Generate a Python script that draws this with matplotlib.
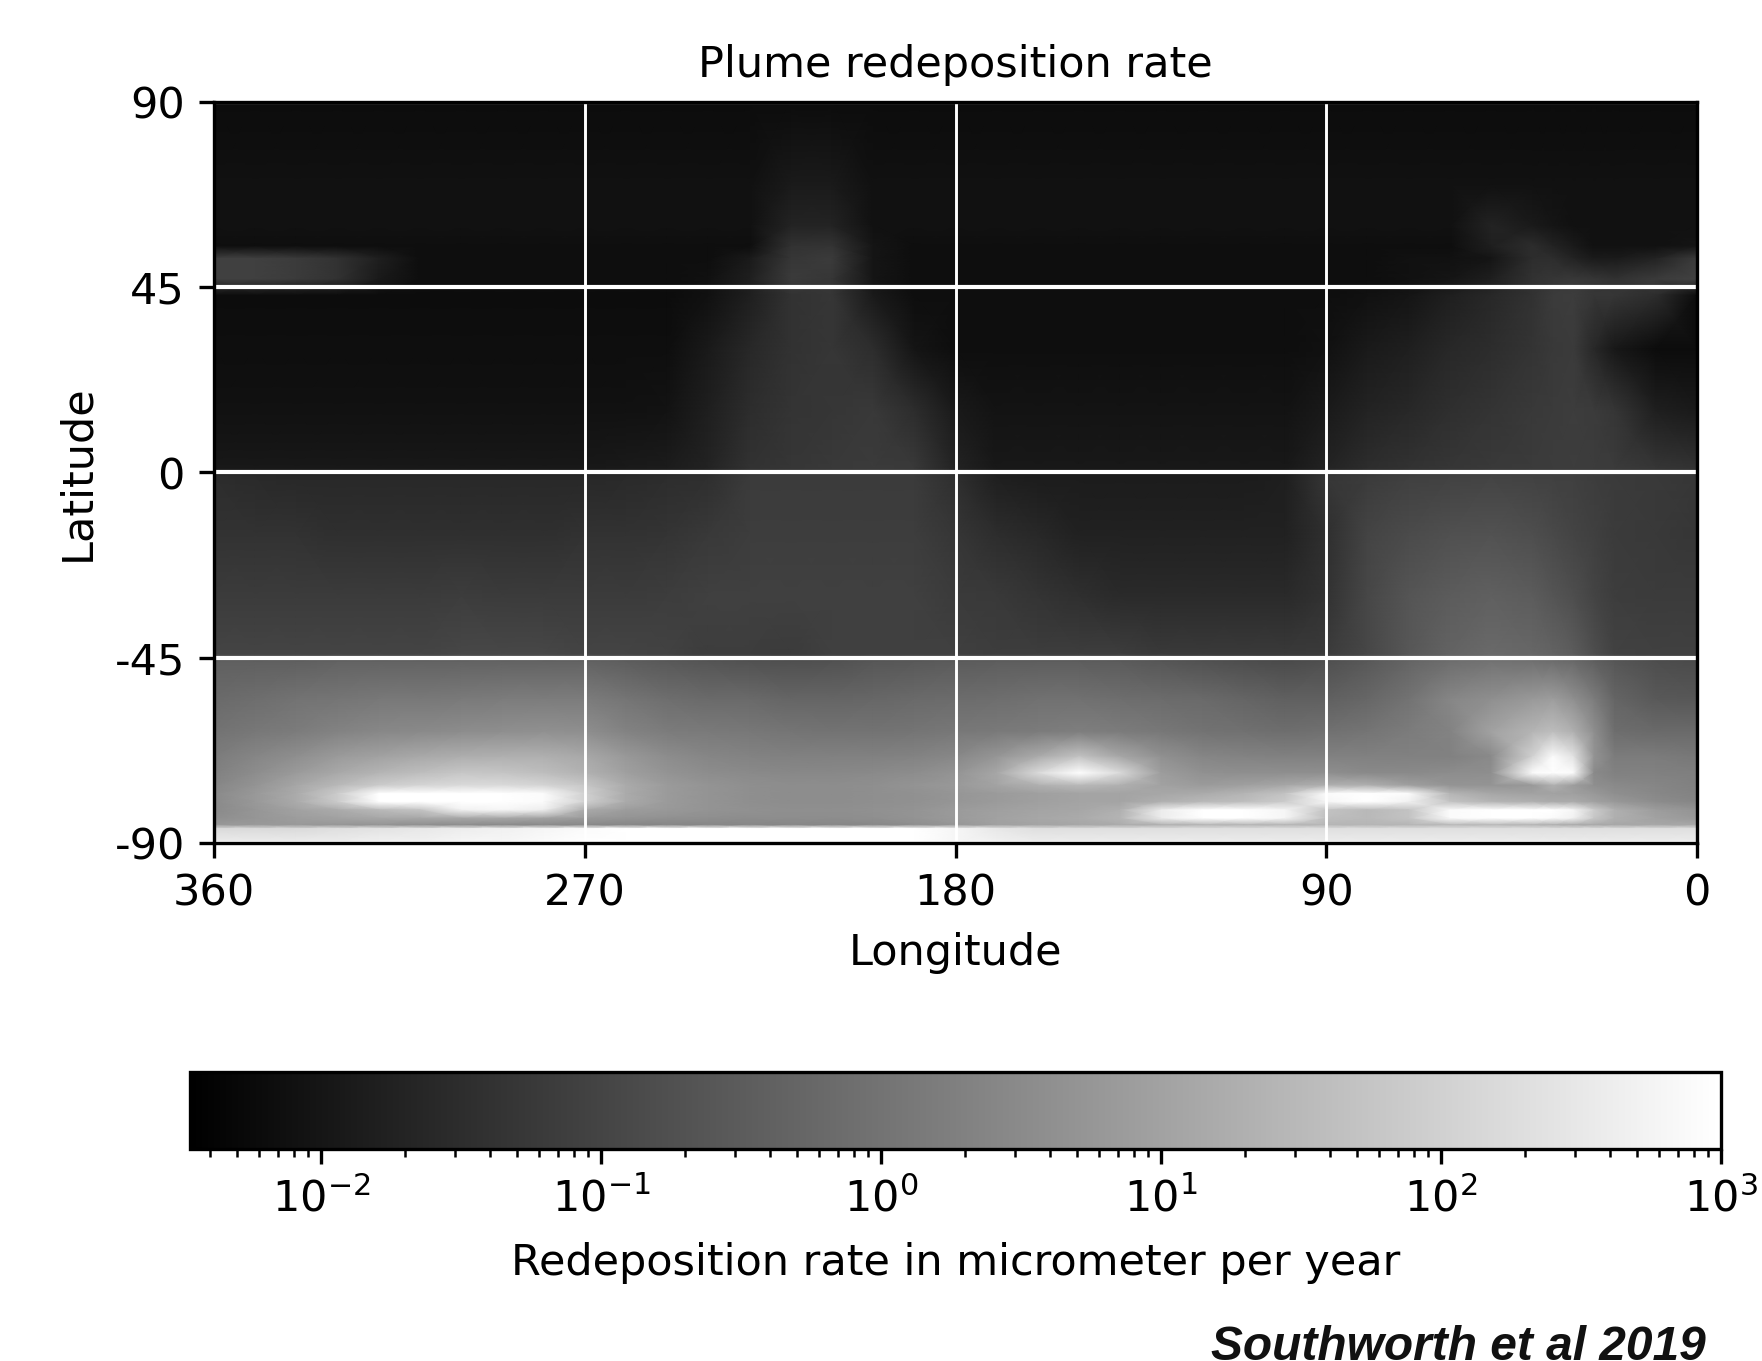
import numpy as np
import matplotlib
matplotlib.use("Agg")
import matplotlib.pyplot as plt
from matplotlib.colors import LogNorm

plt.rcParams["font.size"] = 10.33
plt.rcParams["axes.unicode_minus"] = False

# Grid: log10 of the rate, columns from 360 to 0
lons = [360, 350, 340, 330, 320, 310, 300, 290, 280, 270, 260, 250, 240, 230, 220, 210,
        200, 190, 180, 170, 160, 150, 140, 130, 120, 110, 100, 90, 80, 70, 60, 50,
        40, 35, 30, 25, 20, 10, 0]
lats = [90, 70, 60, 55, 52, 47, 43, 30, 15, 1, -1, -15, -30, -44, -46, -55, -63, -69,
        -73, -76, -78, -80, -82, -84, -85.6, -86.5, -90]

log_rate = [
    [-2.2] * 39,
    [-2.1] * 14 + [-1.9, -1.9] + [-2.1] * 23,
    [-2.1] * 14 + [-1.7, -1.7] + [-2.1] * 15 + [-1.7, -1.9, -2.0, -2.1, -2.1, -2.1, -2.1, -2.1],
    [-2.15] * 14 + [-1.4, -1.35, -2.0] + [-2.15] * 14 + [-1.8, -1.5, -1.7, -1.9, -2.1, -2.1, -2.1, -2.0],
    [-1.1, -1.1, -1.2, -1.4, -1.8] + [-2.15] * 8 + [-1.9, -1.3, -1.2, -2.0] + [-2.15] * 12 + [-2.1, -2.1, -2.0, -1.5, -1.5, -1.7, -1.9, -1.9, -1.7, -1.2],
    [-1.1, -1.1, -1.2, -1.4, -1.9] + [-2.15] * 7 + [-2.1, -1.8, -1.2, -1.3, -2.0] + [-2.15] * 12 + [-2.1, -2.0, -1.8, -1.4, -1.3, -1.25, -1.3, -1.4, -1.2, -1.05],
    [-2.2] * 12 + [-2.1, -1.8, -1.4, -1.3, -1.9] + [-2.15] * 11 + [-2.1, -2.0, -1.8, -1.6, -1.4, -1.2, -1.15, -1.3, -1.3, -1.5, -2.2],
    [-2.15] * 12 + [-1.9, -1.6, -1.4, -1.3, -1.5, -2.0] + [-2.15] * 9 + [-2.1, -1.9, -1.8, -1.6, -1.5, -1.35, -1.25, -1.2, -1.6, -1.95, -2.2, -2.2],
    [-2.1] * 11 + [-2.05, -1.8, -1.5, -1.35, -1.3, -1.25, -1.5, -1.9] + [-2.05] * 8 + [-1.9, -1.7, -1.6, -1.45, -1.35, -1.25, -1.2, -1.15, -1.2, -1.3, -1.8, -1.9],
    [-1.95] * 10 + [-1.9, -1.85, -1.7, -1.4, -1.3, -1.25, -1.2, -1.25, -1.7] + [-1.95] * 8 + [-1.7, -1.5, -1.4, -1.3, -1.25, -1.2, -1.18, -1.15, -1.18, -1.2, -1.3, -1.4],
    [-1.5, -1.55] + [-1.6] * 8 + [-1.55, -1.5, -1.45, -1.2, -1.2, -1.2, -1.2, -1.2, -1.45, -1.8, -1.85, -1.85, -1.85, -1.85, -1.85, -1.85, -1.8, -1.3, -1.2, -1.1, -1.05, -1.0, -1.05, -1.08, -1.1, -1.15, -1.2, -1.25, -1.3],
    [-1.4, -1.4, -1.4, -1.45, -1.45, -1.45, -1.45, -1.45, -1.45, -1.4, -1.4, -1.35, -1.25, -1.15, -1.15, -1.15, -1.15, -1.15, -1.3, -1.5, -1.6, -1.75, -1.75, -1.75, -1.75, -1.75, -1.75, -1.45, -1.0, -0.85, -0.75, -0.7, -0.8, -0.9, -1.0, -1.1, -1.2, -1.25, -1.3],
    [-1.2, -1.2, -1.2, -1.2, -1.2, -1.2, -1.15, -1.2, -1.2, -1.2, -1.2, -1.15, -1.1, -1.1, -1.1, -1.1, -1.1, -1.1, -1.2, -1.25, -1.35, -1.45, -1.55, -1.55, -1.55, -1.55, -1.55, -1.4, -0.95, -0.65, -0.5, -0.4, -0.5, -0.65, -0.8, -1.0, -1.15, -1.2, -1.2],
    [-1.0, -1.0, -1.0, -1.0, -1.0, -1.0, -0.95, -0.95, -0.95, -1.0, -1.0, -1.05, -1.15, -1.15, -1.2, -1.1, -1.1, -1.1, -1.1, -1.15, -1.15, -1.15, -1.15, -1.25, -1.25, -1.25, -1.25, -1.2, -0.95, -0.6, -0.35, -0.2, -0.25, -0.35, -0.5, -0.8, -1.05, -1.1, -1.1],
    [-0.4, -0.4, -0.4, -0.35, -0.35, -0.35, -0.35, -0.35, -0.35, -0.35, -0.45, -0.55, -0.65, -0.7, -0.75, -0.7, -0.6, -0.55, -0.5, -0.45, -0.45, -0.45, -0.5, -0.6, -0.7, -0.8, -0.85, -0.75, -0.55, -0.3, -0.1, 0.0, -0.05, -0.1, -0.2, -0.4, -0.6, -0.8, -0.85],
    [-0.2, -0.1, 0.0, 0.05, 0.1, 0.1, 0.15, 0.2, 0.2, 0.2, 0.05, -0.1, -0.2, -0.2, -0.3, -0.3, -0.25, -0.2, -0.15, -0.1, -0.05, -0.05, -0.1, -0.15, -0.2, -0.3, -0.4, -0.4, -0.25, 0.0, 0.4, 0.6, 0.8, 0.9, 0.6, 0.2, -0.3, -0.55, -0.6],
    [0.0, 0.1, 0.2, 0.35, 0.45, 0.5, 0.55, 0.6, 0.65, 0.6, 0.35, 0.2, 0.15, 0.1, 0.05, 0.0, 0.0, 0.05, 0.1, 0.15, 0.2, 0.25, 0.2, 0.1, 0.0, -0.05, -0.1, -0.05, 0.05, 0.2, 0.35, 1.0, 1.4, 1.6, 1.3, 0.6, -0.1, -0.2, -0.2],
    [0.2, 0.4, 0.6, 0.85, 1.0, 1.15, 1.25, 1.3, 1.3, 1.15, 0.8, 0.55, 0.4, 0.35, 0.3, 0.3, 0.3, 0.35, 0.45, 0.75, 1.2, 1.7, 1.1, 0.65, 0.4, 0.35, 0.3, 0.3, 0.3, 0.3, 0.3, 0.5, 2.0, 2.9, 2.4, 0.7, 0.2, 0.2, 0.1],
    [0.3, 0.55, 0.85, 1.15, 1.4, 1.6, 1.8, 1.75, 1.6, 1.35, 0.95, 0.7, 0.55, 0.5, 0.45, 0.45, 0.5, 0.55, 0.7, 1.1, 2.2, 3.0, 2.2, 0.9, 0.65, 0.6, 0.6, 0.6, 0.5, 0.5, 0.55, 0.6, 2.9, 3.0, 2.9, 0.5, 0.3, 0.3, 0.25],
    [0.4, 0.7, 1.1, 1.5, 1.9, 2.1, 2.2, 2.2, 2.1, 1.8, 1.2, 0.85, 0.7, 0.6, 0.55, 0.55, 0.6, 0.7, 0.8, 1.05, 1.3, 1.5, 1.3, 1.0, 0.85, 0.95, 1.1, 1.3, 1.3, 0.95, 0.7, 0.7, 0.8, 1.3, 0.9, 0.6, 0.5, 0.4, 0.3],
    [0.5, 0.8, 1.2, 1.9, 3.0, 3.0, 3.0, 3.0, 2.9, 2.0, 1.2, 0.85, 0.7, 0.6, 0.55, 0.55, 0.6, 0.65, 0.75, 0.85, 0.95, 1.05, 1.05, 1.1, 1.2, 1.4, 1.7, 2.9, 3.0, 2.9, 1.4, 1.1, 1.0, 1.0, 0.95, 0.8, 0.6, 0.45, 0.35],
    [0.5, 0.8, 1.2, 1.9, 3.0, 3.0, 3.0, 3.0, 2.9, 2.0, 1.2, 0.85, 0.7, 0.6, 0.55, 0.55, 0.6, 0.65, 0.75, 0.85, 0.95, 1.05, 1.05, 1.3, 1.5, 1.6, 1.9, 2.8, 3.0, 2.7, 1.7, 1.4, 1.3, 1.2, 1.2, 1.0, 0.8, 0.55, 0.4],
    [0.5, 0.75, 1.0, 1.2, 1.5, 1.7, 2.7, 2.8, 2.6, 1.2, 0.9, 0.8, 0.7, 0.65, 0.6, 0.6, 0.65, 0.7, 0.85, 0.95, 1.05, 1.1, 1.3, 2.6, 3.0, 3.0, 2.8, 1.7, 1.5, 1.7, 2.9, 3.0, 3.0, 3.0, 2.8, 1.9, 1.3, 0.9, 0.7],
    [0.6, 0.75, 0.9, 1.0, 1.1, 1.1, 1.1, 1.1, 1.0, 0.8, 0.7, 0.65, 0.6, 0.55, 0.55, 0.55, 0.6, 0.7, 0.85, 1.0, 1.1, 1.2, 1.4, 2.6, 3.0, 3.0, 2.8, 1.6, 1.5, 1.7, 2.9, 3.0, 3.0, 2.9, 2.7, 1.8, 1.3, 1.0, 0.8],
    [0.8, 0.8, 0.8, 0.75, 0.7, 0.6, 0.55, 0.5, 0.5, 0.45, 0.4, 0.4, 0.4, 0.4, 0.4, 0.4, 0.45, 0.55, 0.75, 0.95, 1.05, 1.1, 1.2, 1.3, 1.4, 1.4, 1.4, 1.4, 1.4, 1.4, 1.5, 1.5, 1.4, 1.3, 1.2, 1.15, 1.1, 1.1, 1.1],
    [2.2, 2.2, 2.2, 2.3, 2.4, 2.5, 2.6, 2.7, 2.8, 2.9, 3.0, 3.0, 3.0, 3.0, 3.0, 3.0, 3.0, 3.0, 2.8, 2.5] + [2.3] * 19,
    [2.6, 2.6, 2.6, 2.6, 2.7, 2.7, 2.8, 2.8, 2.9, 3.0, 3.0, 3.0, 3.0, 3.0, 3.0, 3.0, 3.0, 3.0, 2.8, 2.7] + [2.6] * 19,
]

lon_ticks = [360, 270, 180, 90, 0]
lat_ticks = [90, 45, 0, -45, -90]
vmin = 0.0034
vmax = 1000

W, H = 1762, 1361
fig = plt.figure(figsize=(W / 300, H / 300), dpi=300)

ax = fig.add_axes([214 / W, 1 - 843 / H, (1697 - 214) / W, (843 - 102) / H])
rate = 10.0 ** np.array(log_rate)
mesh = ax.pcolormesh(lons, lats, rate, shading="gouraud", cmap="gray",
                     norm=LogNorm(vmin=vmin, vmax=vmax))
ax.set_xlim(360, 0)
ax.set_ylim(-90, 90)
ax.set_xticks(lon_ticks)
ax.set_yticks(lat_ticks)
ax.grid(axis="x", color="white", linewidth=0.7)
ax.grid(axis="y", color="white", linewidth=1.0)
ax.set_xlabel("Longitude", labelpad=4.3)
ax.set_ylabel("Latitude")
ax.set_title("Plume redeposition rate", fontsize=10.33)

cax = fig.add_axes([190 / W, 1 - 1149 / H, (1721 - 190) / W, (1149 - 1072) / H])
cb = fig.colorbar(mesh, cax=cax, orientation="horizontal")
cb.set_label("Redeposition rate in micrometer per year", labelpad=5)

fig.text(1706 / W, 1 - 1360 / H, "Southworth et al 2019", ha="right", va="baseline",
         family="Liberation Sans", weight="bold", style="italic", fontsize=11.5, color="#111111")

fig.savefig("out.png", dpi=300)
